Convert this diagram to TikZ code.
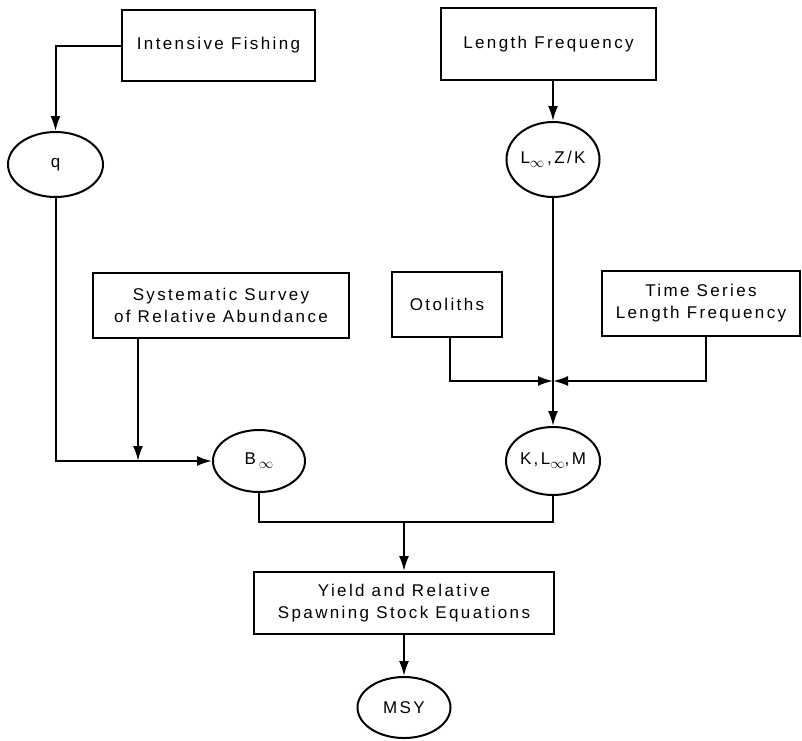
\documentclass[tikz,border=0pt]{standalone}
\usepackage{fontspec}
\setmainfont{Liberation Sans}[LetterSpace=14]
\usepackage{tikz}
\usetikzlibrary{shapes.geometric,arrows.meta}
\newcommand{\infsub}{\raisebox{-4pt}{\fontsize{15}{15}\selectfont$\infty$}}

\begin{document}
\begin{tikzpicture}[x=1pt,y=-1pt,line width=2pt]
  \tikzstyle{every node}=[font=\fontsize{17}{22}\selectfont,align=center]
  \tikzstyle{srcbox}=[rectangle,draw,inner sep=0pt]
  \tikzstyle{param}=[ellipse,draw,inner sep=0pt]
  \tikzstyle{arr}=[-{Latex[length=15pt,width=10pt]}]
  \useasboundingbox (0,0) rectangle (802,740);
  % data sources and estimates
  \node[srcbox,minimum width=193pt,minimum height=71pt] (fish) at (218.5,45.5) {Intensive Fishing};
  \node[param,minimum width=95pt,minimum height=65pt] (q) at (55.5,164.5) {q};
  \node[srcbox,minimum width=215pt,minimum height=72pt] (lenfreq) at (548.5,44) {Length Frequency};
  \node[param,minimum width=93pt,minimum height=75pt] (linfzk) at (553,159.5) {L\infsub\,,Z/K};
  \node[srcbox,minimum width=256pt,minimum height=65pt] (survey) at (221,305.5) {Systematic Survey\\of Relative Abundance};
  \node[srcbox,minimum width=110pt,minimum height=65pt] (otol) at (447,304.5) {Otoliths};
  \node[srcbox,minimum width=198pt,minimum height=65pt] (tseries) at (701,303.5) {Time Series\\Length Frequency};
  \node[param,minimum width=92pt,minimum height=62pt] (binf) at (259,461) {B\,\infsub};
  \node[param,minimum width=94pt,minimum height=68pt] (klm) at (553,461) {K,L\infsub,M};
  \node[srcbox,minimum width=300pt,minimum height=62pt] (yield) at (404,603) {Yield and Relative\\Spawning Stock Equations};
  \node[param,minimum width=93pt,minimum height=61pt] (msy) at (404,707.5) {MSY};
  % junctions
  \coordinate (sj) at (138,461);
  \coordinate (kj) at (553,381);
  \coordinate (bj) at (404,522);
  % connectors
  \draw[arr] (fish.west) -| (q.north);
  \draw[arr] (q.south) |- (binf.west);
  \draw[arr] (survey.south -| sj) -- (sj);
  \draw[arr] (lenfreq.south -| linfzk) -- (linfzk.north);
  \draw[arr] (linfzk.south) -- (klm.north);
  \draw[arr] ([xshift=3pt]otol.south) |- (kj);
  \draw[arr] ([xshift=5pt]tseries.south) |- (kj);
  \draw (binf.south) |- (bj) -| (klm.south);
  \draw[arr] (bj) -- (yield.north);
  \draw[arr] (yield.south) -- (msy.north);
\end{tikzpicture}
\end{document}
